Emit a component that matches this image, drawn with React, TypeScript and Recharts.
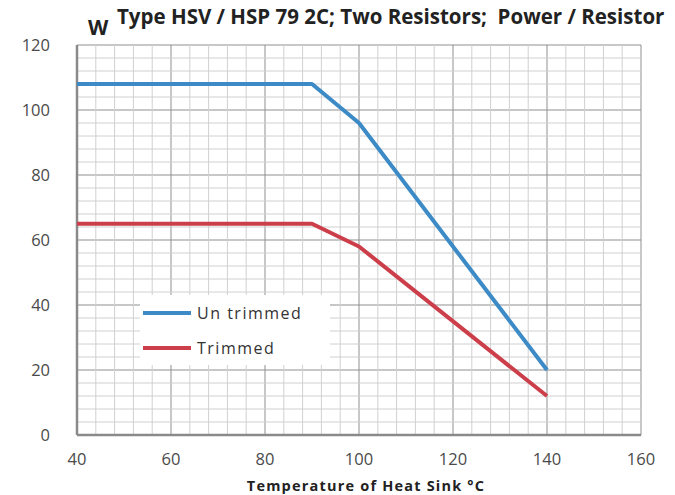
import React from "react";
import {
  CartesianGrid,
  Line,
  LineChart,
  ReferenceLine,
  XAxis,
  YAxis,
} from "recharts";

// temperature of heat sink (°C)
const untrimmedTemp = [40, 90, 100, 140];
const untrimmedPower = [108, 108, 96, 20];
const trimmedTemp = [40, 90, 100, 140];
const trimmedPower = [65, 65, 58, 12];

const xTicks = [40, 60, 80, 100, 120, 140, 160];
const yTicks = [0, 20, 40, 60, 80, 100, 120];
const xMinor = [44, 48, 52, 56, 64, 68, 72, 76, 84, 88, 92, 96, 104, 108, 112, 116, 124, 128, 132, 136, 144, 148, 152, 156];
const yMinor = [4, 8, 12, 16, 24, 28, 32, 36, 44, 48, 52, 56, 64, 68, 72, 76, 84, 88, 92, 96, 104, 108, 112, 116];

const untrimmed = untrimmedTemp.map((t, i) => ({ t, p: untrimmedPower[i] }));
const trimmed = trimmedTemp.map((t, i) => ({ t, p: trimmedPower[i] }));

const BLUE = "#3c8bc6";
const RED = "#cc3f4a";
const FONT = "'Open Sans', 'Liberation Sans', sans-serif";

const legendItems = [
  { name: "Un trimmed", color: BLUE },
  { name: "Trimmed", color: RED },
];

export default function App() {
  return (
    <div style={{ position: "absolute", left: 0, top: 0, width: 675, height: 495, background: "#fff", overflow: "hidden" }}>
      <LineChart
        width={675}
        height={495}
        margin={{ top: 45, right: 34, bottom: 30, left: 0 }}
      >
        <XAxis
          dataKey="t"
          type="number"
          domain={[40, 160]}
          ticks={xTicks}
          height={30}
          tickSize={0}
          tickMargin={18}
          axisLine={false}
          tick={{ fill: "#4a4a4a", fontSize: 16.5, fontFamily: FONT }}
          allowDuplicatedCategory={false}
        />
        <YAxis
          type="number"
          domain={[0, 120]}
          ticks={yTicks}
          width={77}
          tickSize={0}
          tickMargin={27}
          axisLine={false}
          tick={{ fill: "#4a4a4a", fontSize: 16.5, fontFamily: FONT }}
        />
        {xMinor.map((v) => (
          <ReferenceLine key={"x" + v} x={v} stroke="#d0d0d0" strokeWidth={1} />
        ))}
        {yMinor.map((v) => (
          <ReferenceLine key={"y" + v} y={v} stroke="#d0d0d0" strokeWidth={1} />
        ))}
        <CartesianGrid stroke="#8f8f8f" strokeWidth={1} />
        <ReferenceLine x={40} stroke="#8a8a8a" strokeWidth={2.5} />
        <ReferenceLine y={0} stroke="#8a8a8a" strokeWidth={2.5} />
        <Line
          data={untrimmed}
          dataKey="p"
          name="Un trimmed"
          stroke={BLUE}
          strokeWidth={4}
          dot={false}
          strokeLinejoin="round"
          isAnimationActive={false}
        />
        <Line
          data={trimmed}
          dataKey="p"
          name="Trimmed"
          stroke={RED}
          strokeWidth={4}
          dot={false}
          strokeLinejoin="round"
          isAnimationActive={false}
        />
      </LineChart>
      <div
        style={{
          position: "absolute",
          left: 117,
          top: 2,
          fontFamily: FONT,
          fontWeight: 700,
          fontSize: 20.5,
          color: "#222",
          whiteSpace: "pre",
        }}
      >
        {"Type HSV / HSP 79 2C; Two Resistors;  Power / Resistor"}
      </div>
      <div
        style={{
          position: "absolute",
          left: 88,
          top: 13,
          fontFamily: FONT,
          fontWeight: 700,
          fontSize: 21,
          color: "#222",
        }}
      >
        W
      </div>
      <div
        style={{
          position: "absolute",
          left: 0,
          width: 732,
          textAlign: "center",
          top: 478,
          lineHeight: "16px",
          fontFamily: FONT,
          fontWeight: 700,
          fontSize: 14.5,
          letterSpacing: 1.2,
          color: "#222",
        }}
      >
        Temperature of Heat Sink °C
      </div>
      <div
        style={{
          position: "absolute",
          left: 140,
          top: 295,
          width: 190,
          height: 70,
          background: "#fff",
          fontFamily: FONT,
          fontSize: 16,
          color: "#333",
          letterSpacing: 1.5,
        }}
      >
        {legendItems.map((e) => (
          <div
            key={e.name}
            style={{ display: "flex", alignItems: "center", height: 35, paddingLeft: 3 }}
          >
            <div style={{ width: 48, height: 4, background: e.color, marginRight: 6 }} />
            <span>{e.name}</span>
          </div>
        ))}
      </div>
    </div>
  );
}
